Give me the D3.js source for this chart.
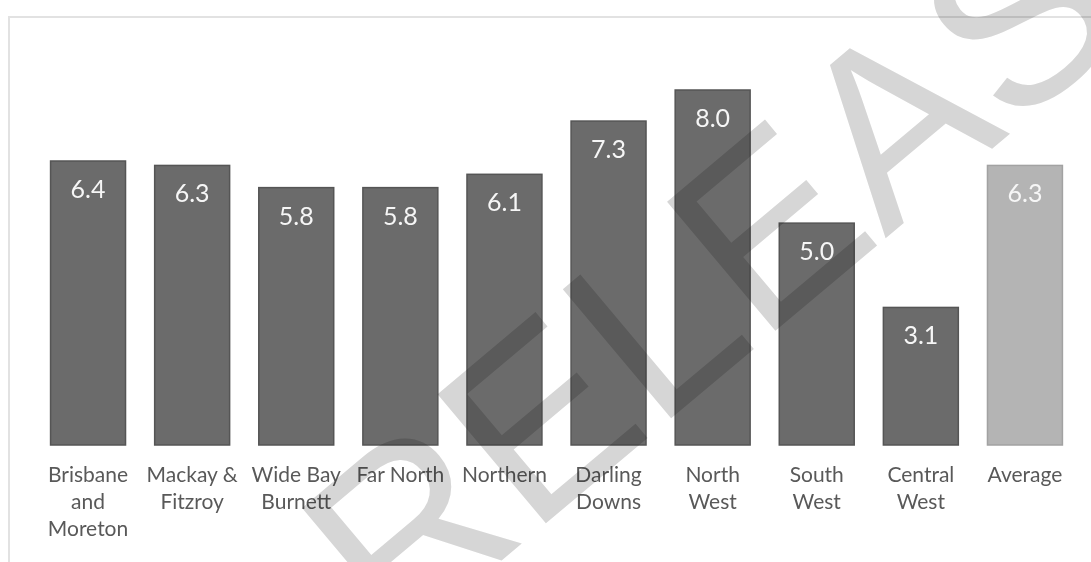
<!DOCTYPE html>
<html>
<head>
<meta charset="utf-8">
<script src="https://cdn.jsdelivr.net/npm/d3@7"></script>
<style>
  body { margin: 0; background: #fff; }
  svg { display: block; }
</style>
</head>
<body>
<script>
var regions = [
  ["Brisbane", "and", "Moreton"],
  ["Mackay &", "Fitzroy"],
  ["Wide Bay", "Burnett"],
  ["Far North"],
  ["Northern"],
  ["Darling", "Downs"],
  ["North", "West"],
  ["South", "West"],
  ["Central", "West"],
  ["Average"]
];
var values = [6.4, 6.3, 5.8, 5.8, 6.1, 7.3, 8.0, 5.0, 3.1, 6.3];
var isAverage = [false, false, false, false, false, false, false, false, false, true];

(function() {
  var width = 1091;
  var height = 562;

  var svg = d3.select("body")
    .append("svg")
    .attr("width", width)
    .attr("height", height);

  // faint frame of the scanned page
  svg.append("rect")
    .attr("x", 9).attr("y", 17)
    .attr("width", width).attr("height", height)
    .attr("fill", "none")
    .attr("stroke", "#e2e2e2")
    .attr("stroke-width", 2);

  var x = d3.scaleBand()
    .domain(d3.range(values.length))
    .range([36, 1077])
    .paddingInner(0.28)
    .paddingOuter(0.14);

  var y = d3.scaleLinear()
    .domain([0, 8])
    .range([445, 90]);

  var bars = svg.selectAll(".bar")
    .data(values)
    .enter().append("g")
    .attr("class", "bar");

  bars.append("rect")
    .attr("x", function(d, i) { return x(i); })
    .attr("y", function(d) { return y(d); })
    .attr("width", x.bandwidth())
    .attr("height", function(d) { return y(0) - y(d); })
    .attr("fill", function(d, i) { return isAverage[i] ? "#b4b4b4" : "#6b6b6b"; })
    .attr("stroke", function(d, i) { return isAverage[i] ? "#a2a2a2" : "#555"; })
    .attr("stroke-width", 1.5);

  bars.append("text")
    .attr("x", function(d, i) { return x(i) + x.bandwidth() / 2; })
    .attr("y", function(d) { return y(d) + 37; })
    .attr("text-anchor", "middle")
    .attr("font-family", "Lato, 'Open Sans', sans-serif")
    .attr("font-size", 25)
    .attr("fill", "#f6f6f6")
    .text(function(d) { return d.toFixed(1); });

  var labels = svg.selectAll(".label")
    .data(regions)
    .enter().append("text")
    .attr("class", "label")
    .attr("text-anchor", "middle")
    .attr("font-family", "Lato, 'Open Sans', sans-serif")
    .attr("font-size", 21)
    .attr("fill", "#595959")
    .attr("x", function(d, i) { return x(i) + x.bandwidth() / 2; })
    .attr("y", 482);

  labels.selectAll("tspan")
    .data(function(d) { return d; })
    .enter().append("tspan")
    .attr("x", function() { return d3.select(this.parentNode).attr("x"); })
    .attr("dy", function(d, i) { return i === 0 ? 0 : 27; })
    .text(function(d) { return d; });

  // watermark over the scan
  svg.append("text")
    .attr("transform", "translate(395,650) rotate(-40)")
    .attr("font-family", "'Liberation Sans', Arial, sans-serif")
    .attr("font-size", 245)
    .attr("fill", "#d6d6d6")
    .style("mix-blend-mode", "multiply")
    .text("RELEASED");
})();
</script>
</body>
</html>
